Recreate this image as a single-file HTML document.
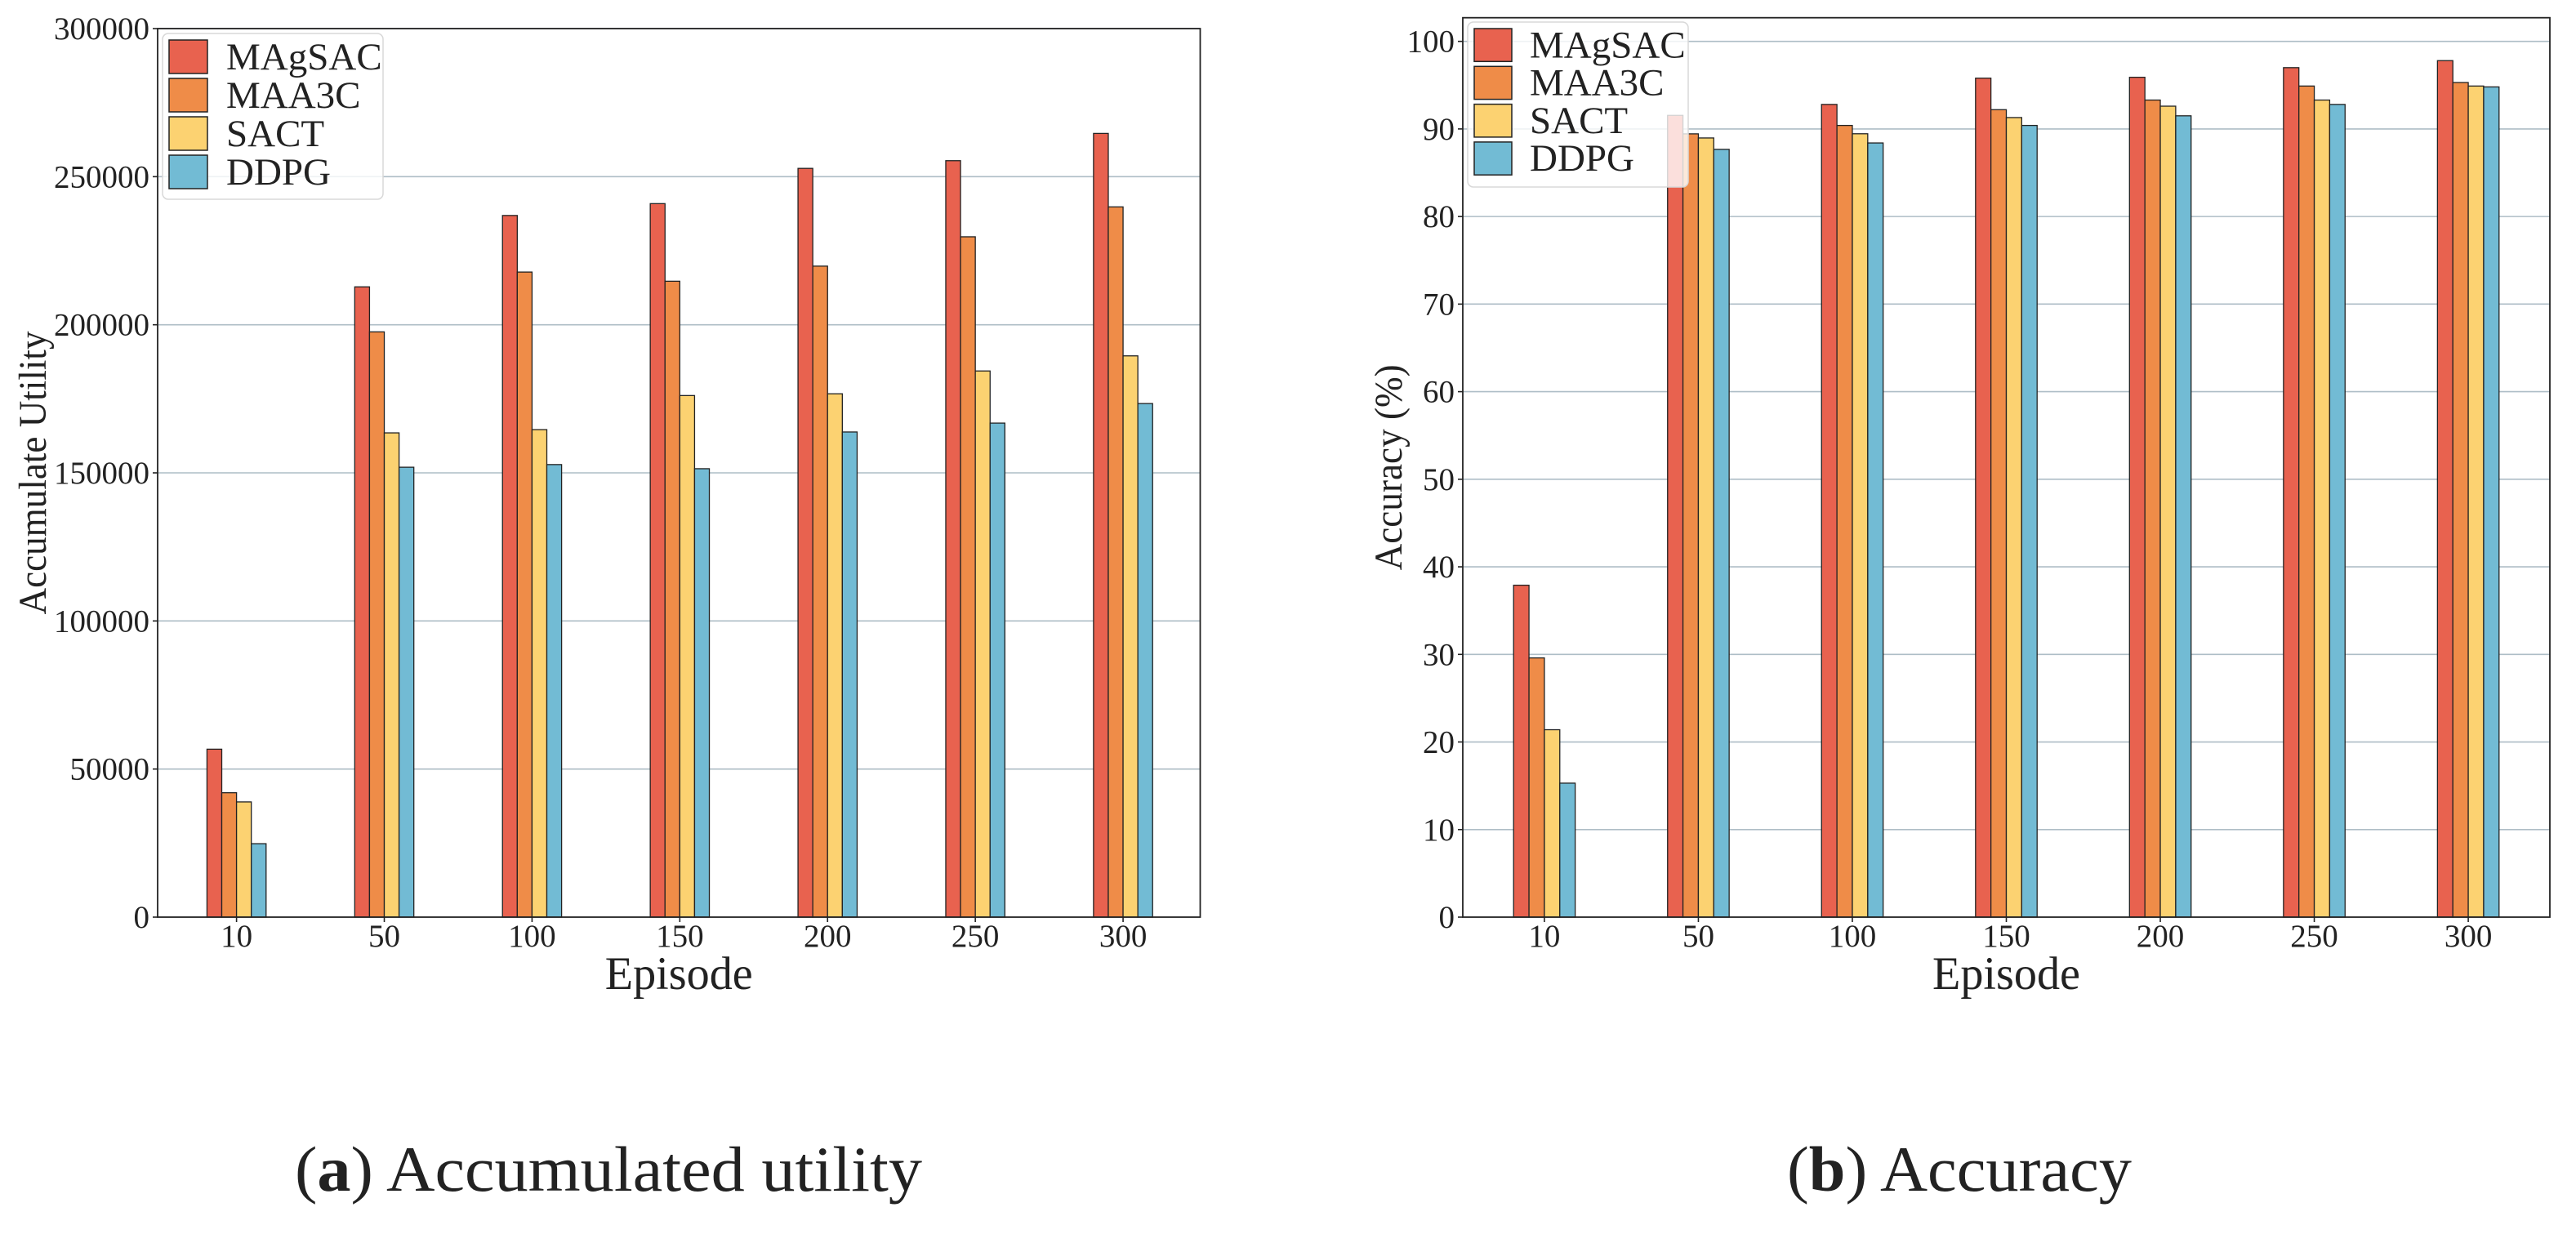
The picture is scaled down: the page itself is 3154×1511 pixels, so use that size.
<!DOCTYPE html>
<html><head><meta charset="utf-8"><style>
html,body{margin:0;padding:0;background:#fff;}
svg{display:block;font-family:"Liberation Serif",serif;}
</style></head><body>
<svg id="fig" width="3154" height="1511" viewBox="0 0 3154 1511" xmlns="http://www.w3.org/2000/svg">
<rect width="3154" height="1511" fill="#fff"/>
<g id="chartA"></g>
<g id="chartB"></g>
<text x="361" y="1458" font-size="78" fill="#222" textLength="768" lengthAdjust="spacingAndGlyphs">(<tspan font-weight="bold">a</tspan>) Accumulated utility</text>
<text x="2188" y="1458" font-size="78" fill="#222" textLength="422" lengthAdjust="spacingAndGlyphs">(<tspan font-weight="bold">b</tspan>) Accuracy</text>
</svg>
<script>
const categories = ["10","50","100","150","200","250","300"];
const seriesNames = ["MAgSAC","MAA3C","SACT","DDPG"];
const utilMAgSAC = [56700,212800,236900,240900,252800,255400,264600];
const utilMAA3C  = [42000,197600,217800,214700,219800,229700,239800];
const utilSACT   = [38900,163500,164600,176100,176700,184400,189500];
const utilDDPG   = [24800,151900,152800,151400,163800,166800,173400];
const accMAgSAC = [37.9,91.55,92.8,95.8,95.9,97.0,97.8];
const accMAA3C  = [29.6,89.44,90.4,92.2,93.3,94.9,95.3];
const accSACT   = [21.4,88.97,89.45,91.3,92.6,93.3,94.9];
const accDDPG   = [15.3,87.67,88.4,90.4,91.5,92.8,94.8];
const utilTicks = [0,50000,100000,150000,200000,250000,300000];
const accTicks = [0,10,20,30,40,50,60,70,80,90,100];
const colors = ["#E8624F","#EF8C48","#FCD271","#72BBD4"];
const NS="http://www.w3.org/2000/svg";
function mk(parent,tag,attrs){const e=document.createElementNS(NS,tag);for(const k in attrs)e.setAttribute(k,attrs[k]);parent.appendChild(e);return e;}

function drawChart(g,cfg){
  const {L,R,T,B,ymax,xmin,xmax,ticks,series,ylabel,ylabX,legend}=cfg;
  const xs=v=>L+(v-xmin)/(xmax-xmin)*(R-L);
  const ys=v=>B-v/ymax*(B-T);
  const unit=(R-L)/(xmax-xmin);
  const bw=0.1*unit;
  ticks.forEach(t=>{
    const y=ys(t);
    if(t>0){const gl=mk(g,'line',{x1:L,x2:R,y1:y,y2:y,stroke:'#aebdc6','stroke-width':1.6});
      
      }
    mk(g,'line',{x1:L-6,x2:L,y1:y,y2:y,stroke:'#222','stroke-width':1.6});
    const tx=mk(g,'text',{x:L-10,y:y+13,'font-size':39,'text-anchor':'end',fill:'#222'});
    tx.textContent=t;
    
    
  });
  categories.forEach((c,i)=>{
    const cx=xs(i);
    series.forEach((arr,s)=>{
      const x=cx+(s-2)*bw;
      const r=mk(g,'rect',{x:x,y:ys(arr[i]),width:bw,height:B-ys(arr[i]),fill:colors[s],stroke:'#222','stroke-width':1.3});
      
      
    });
    mk(g,'line',{x1:cx,x2:cx,y1:B,y2:B+6,stroke:'#222','stroke-width':1.6});
    const tx=mk(g,'text',{x:cx,y:B+36,'font-size':39,'text-anchor':'middle',fill:'#222'});
    tx.textContent=c;
    
    
  });
  const frame=mk(g,'rect',{x:L,y:T,width:R-L,height:B-T,fill:'none',stroke:'#222','stroke-width':1.8});
  
  
  const xl=mk(g,'text',{x:(L+R)/2,y:1211,'font-size':57,'text-anchor':'middle',fill:'#222',textLength:181,lengthAdjust:'spacingAndGlyphs'});
  xl.textContent='Episode';
  
  
  const cy=(T+B)/2;
  const yl=mk(g,'text',{x:ylabX,y:cy,'font-size':48,'text-anchor':'middle',fill:'#222',transform:`rotate(-90 ${ylabX} ${cy})`,textLength:ylabel[1],lengthAdjust:'spacingAndGlyphs'});
  yl.textContent=ylabel[0];
  
  
  const lg=mk(g,'g',{});
  
  
  mk(lg,'rect',{x:legend.x,y:legend.y,width:legend.w,height:legend.h,rx:7,fill:'#fff','fill-opacity':0.8,stroke:'#d8d8d8','stroke-width':1.5});
  seriesNames.forEach((n,s)=>{
    const ry=legend.y+8+s*legend.step;
    mk(lg,'rect',{x:legend.x+8,y:ry,width:legend.sw,height:legend.step-6,fill:colors[s],stroke:'#222','stroke-width':1.5});
    const t=mk(lg,'text',{x:legend.tx,y:ry+legend.step-11,'font-size':47,fill:'#222'});
    t.textContent=n;
    
    
  });
}
drawChart(document.getElementById('chartA'),{L:193,R:1469.5,T:35,B:1123,ymax:300000,xmin:-0.534,xmax:6.522,ticks:utilTicks,
  series:[utilMAgSAC,utilMAA3C,utilSACT,utilDDPG],ylabel:['Accumulate Utility',347],ylabX:56,
  legend:{x:199,y:41,w:270,h:203,step:47,sw:47,tx:277}});
drawChart(document.getElementById('chartB'),{L:1791,R:3122,T:21.7,B:1123,ymax:102.7,xmin:-0.53,xmax:6.53,ticks:accTicks,
  series:[accMAgSAC,accMAA3C,accSACT,accDDPG],ylabel:['Accuracy (%)',252],ylabX:1716,
  legend:{x:1797,y:27,w:270,h:202,step:46.3,sw:46,tx:1873}});
</script>
</body></html>
